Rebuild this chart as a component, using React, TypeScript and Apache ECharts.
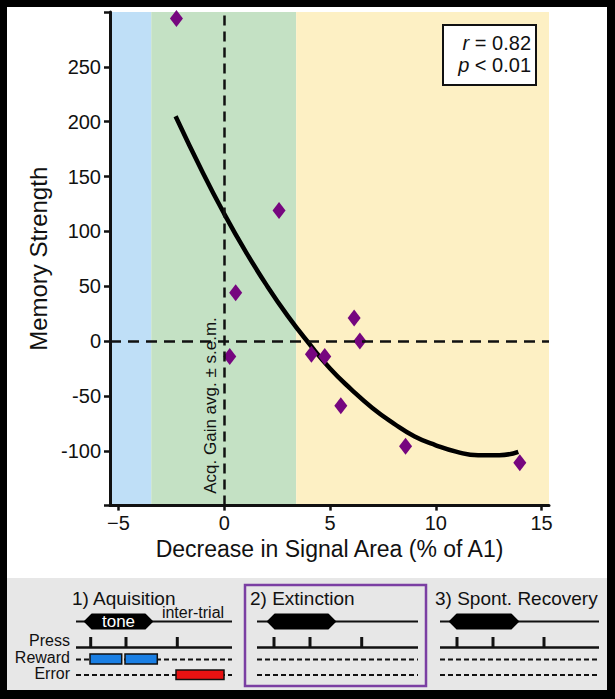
import React, { useEffect, useRef } from 'react';
import * as echarts from 'echarts';

// ---- data ----
const decreaseX = [-2.26, 2.59, 0.54, 0.26, 4.12, 4.75, 6.14, 6.41, 5.51, 8.57, 13.97];
const memoryY = [294, 119, 44, -14, -12, -14, 21, 0, -59, -96, -111];
const fitX = [-2.3, -1, 0, 1, 2, 3, 4, 5, 6, 7, 8, 9, 10, 11, 12, 13, 13.9];
const fitY = [205, 153, 116, 82, 51, 23, -2, -25, -44, -61, -75, -87, -95, -101, -104, -104, -101];
const xTickValues = [-5, 0, 5, 10, 15];
const yHiddenLabels = [-150, 300];
const bandEdges = [-5.4, -3.45, 3.4, 15.35];
const stageTitles = ['1) Aquisition', '2) Extinction', '3) Spont. Recovery'];
const rowLabels = ['Press', 'Reward', 'Error'];
const statLines = ['r = 0.82', 'p < 0.01'];
const gainLabel = 'Acq. Gain avg. ± s.e.m.';

// ---- styles ----
const FONT = '"Liberation Sans", Arial, Helvetica, sans-serif';
const bandColors = ['#bfdff7', '#c4e1c4', '#fdf0c4'];
const PURPLE = '#76067f';

function hexagon(x0: number, x1: number, cy: number, h: number) {
  const inset = 7;
  return [
    [x0, cy],
    [x0 + inset, cy - h / 2],
    [x1 - inset, cy - h / 2],
    [x1, cy],
    [x1 - inset, cy + h / 2],
    [x0 + inset, cy + h / 2],
  ];
}

function buildGraphics() {
  const g: any[] = [];
  // backgrounds
  g.push({ type: 'rect', z: -10, shape: { x: 7, y: 7, width: 600, height: 571 }, style: { fill: '#ffffff' } });
  g.push({ type: 'rect', z: -10, shape: { x: 7, y: 578, width: 600, height: 112 }, style: { fill: '#e7e7e7' } });

  // stats box
  g.push({ type: 'rect', z: 20, shape: { x: 443, y: 25, width: 93, height: 60 }, style: { fill: '#ffffff', stroke: '#111', lineWidth: 2 } });
  statLines.forEach((t, i) => {
    const parts = t.split(' ');
    g.push({
      type: 'text', z: 21, x: 531, y: 43 + i * 22,
      style: {
        text: '{i|' + parts[0] + '} ' + parts.slice(1).join(' '),
        font: '20px ' + FONT, fill: '#111', textAlign: 'right', textVerticalAlign: 'middle',
        rich: { i: { fontStyle: 'italic', fontSize: 20, fontFamily: FONT, fill: '#111' } },
      },
    });
  });

  // vertical gain label
  g.push({
    type: 'text', z: 21, x: 210.5, y: 405.5, rotation: Math.PI / 2,
    style: { text: gainLabel, font: '17px ' + FONT, fill: '#111', textAlign: 'center', textVerticalAlign: 'middle' },
  });

  // bottom panel
  const stages = [
    { tx: 72, x0: 76, x1: 232, hex: [85, 152], press: [90.7, 126, 177.3] },
    { tx: 250, x0: 257, x1: 418, hex: [268, 335], press: [274, 310, 361.7] },
    { tx: 435, x0: 440, x1: 599, hex: [450, 518], press: [457, 493, 544] },
  ];
  stages.forEach((s, i) => {
    g.push({ type: 'text', z: 20, x: s.tx, y: 598, style: { text: stageTitles[i], font: '19px ' + FONT, fill: '#111', textAlign: 'left', textVerticalAlign: 'middle' } });
    g.push({ type: 'line', z: 20, shape: { x1: s.x0, y1: 621.5, x2: s.x1, y2: 621.5 }, style: { stroke: '#111', lineWidth: 2 } });
    g.push({ type: 'polygon', z: 21, shape: { points: hexagon(s.hex[0], s.hex[1], 621.5, 14) }, style: { fill: '#000', stroke: '#000', lineWidth: 2, lineJoin: 'round' } });
    g.push({ type: 'line', z: 20, shape: { x1: s.x0, y1: 647.5, x2: s.x1, y2: 647.5 }, style: { stroke: '#111', lineWidth: 2.5 } });
    s.press.forEach((px) => {
      g.push({ type: 'line', z: 20, shape: { x1: px, y1: 637, x2: px, y2: 647.5 }, style: { stroke: '#111', lineWidth: 3 } });
    });
    [659.5, 675].forEach((yy) => {
      g.push({ type: 'line', z: 20, shape: { x1: s.x0, y1: yy, x2: s.x1, y2: yy }, style: { stroke: '#111', lineWidth: 2, lineDash: [5, 3] } });
    });
  });
  // stage 1 extras
  g.push({ type: 'text', z: 22, x: 118.5, y: 621, style: { text: 'tone', font: '17px ' + FONT, fill: '#ffffff', textAlign: 'center', textVerticalAlign: 'middle' } });
  g.push({ type: 'text', z: 22, x: 193, y: 612.5, style: { text: 'inter-trial', font: '16px ' + FONT, fill: '#111', textAlign: 'center', textVerticalAlign: 'middle' } });
  g.push({ type: 'rect', z: 22, shape: { x: 90, y: 654, width: 31.7, height: 10 }, style: { fill: '#1a7fe4', stroke: '#111', lineWidth: 1.5 } });
  g.push({ type: 'rect', z: 22, shape: { x: 125, y: 654, width: 32.3, height: 10 }, style: { fill: '#1a7fe4', stroke: '#111', lineWidth: 1.5 } });
  g.push({ type: 'rect', z: 22, shape: { x: 176, y: 670, width: 48, height: 9.5 }, style: { fill: '#e81212', stroke: '#111', lineWidth: 1.5 } });
  const labelY = [640.5, 657.5, 673];
  rowLabels.forEach((t, i) => {
    g.push({ type: 'text', z: 22, x: 70, y: labelY[i], style: { text: t, font: '16px ' + FONT, fill: '#111', textAlign: 'right', textVerticalAlign: 'middle' } });
  });
  // extinction box
  g.push({ type: 'rect', z: 22, shape: { x: 245, y: 585, width: 181, height: 101 }, style: { fill: 'none', stroke: '#7b3fa3', lineWidth: 2.5 } });
  return g;
}

export default function App() {
  const ref = useRef<HTMLDivElement>(null);
  useEffect(() => {
    if (!ref.current) return;
    const chart = echarts.init(ref.current, undefined, { renderer: 'svg' });
    const scatterData = decreaseX.map((x, i) => [x, memoryY[i]]);
    const fitData = fitX.map((x, i) => [x, fitY[i]]);
    const bandData = bandColors.map((c, i) => [
      { xAxis: bandEdges[i], itemStyle: { color: c } },
      { xAxis: bandEdges[i + 1] },
    ]);
    chart.setOption({
      animation: false,
      backgroundColor: '#000000',
      grid: { left: 110, right: 66, top: 12, bottom: 193.4 },
      xAxis: {
        type: 'value', min: bandEdges[0], max: bandEdges[3], z: 10,
        axisLine: { onZero: false, lineStyle: { color: '#111', width: 3 } },
        axisTick: { customValues: xTickValues, length: 5, lineStyle: { color: '#111', width: 2.5 } },
        axisLabel: {
          customValues: xTickValues, margin: 7, fontSize: 20, fontFamily: FONT, color: '#111',
          formatter: (v: number) => (v < 0 ? '\u2212' + Math.abs(v) : String(v)),
        },
        splitLine: { show: false },
        name: 'Decrease in Signal Area (% of A1)', nameLocation: 'middle', nameGap: 30,
        nameTextStyle: { fontSize: 23, fontFamily: FONT, color: '#111' },
      },
      yAxis: {
        type: 'value', min: -150, max: 300, interval: 50, z: 10,
        axisLine: { onZero: false, lineStyle: { color: '#111', width: 3 } },
        axisTick: { length: 6, lineStyle: { color: '#111', width: 2.5 } },
        axisLabel: {
          margin: 9, fontSize: 20, fontFamily: FONT, color: '#111',
          formatter: (v: number) => (yHiddenLabels.includes(v) ? '' : String(v)),
        },
        splitLine: { show: false },
        name: 'Memory Strength', nameLocation: 'middle', nameGap: 58, nameRotate: 90,
        nameTextStyle: { fontSize: 24, fontFamily: FONT, color: '#111' },
      },
      graphic: buildGraphics(),
      series: [
        {
          type: 'line', name: 'bands', data: [], z: 1, silent: true,
          markArea: { silent: true, data: bandData },
        },
        {
          type: 'line', name: 'refs', data: [], z: 2, silent: true,
          markLine: {
            silent: true, symbol: 'none', label: { show: false },
            data: [
              { xAxis: 0, lineStyle: { color: '#111', width: 2.5, type: [10, 6] } },
              { yAxis: 0, lineStyle: { color: '#111', width: 2.5, type: [11, 7] } },
            ],
          },
        },
        {
          type: 'line', name: 'fit', data: fitData, z: 3, smooth: true, showSymbol: false,
          lineStyle: { color: '#000', width: 4.5 },
        },
        {
          type: 'scatter', name: 'animals', data: scatterData, z: 4,
          symbol: 'diamond', symbolSize: [13, 17], itemStyle: { color: PURPLE, opacity: 1 },
        },
      ],
    });
    return () => chart.dispose();
  }, []);
  return <div ref={ref} style={{ position: 'fixed', left: 0, top: 0, width: 615, height: 699 }} />;
}
